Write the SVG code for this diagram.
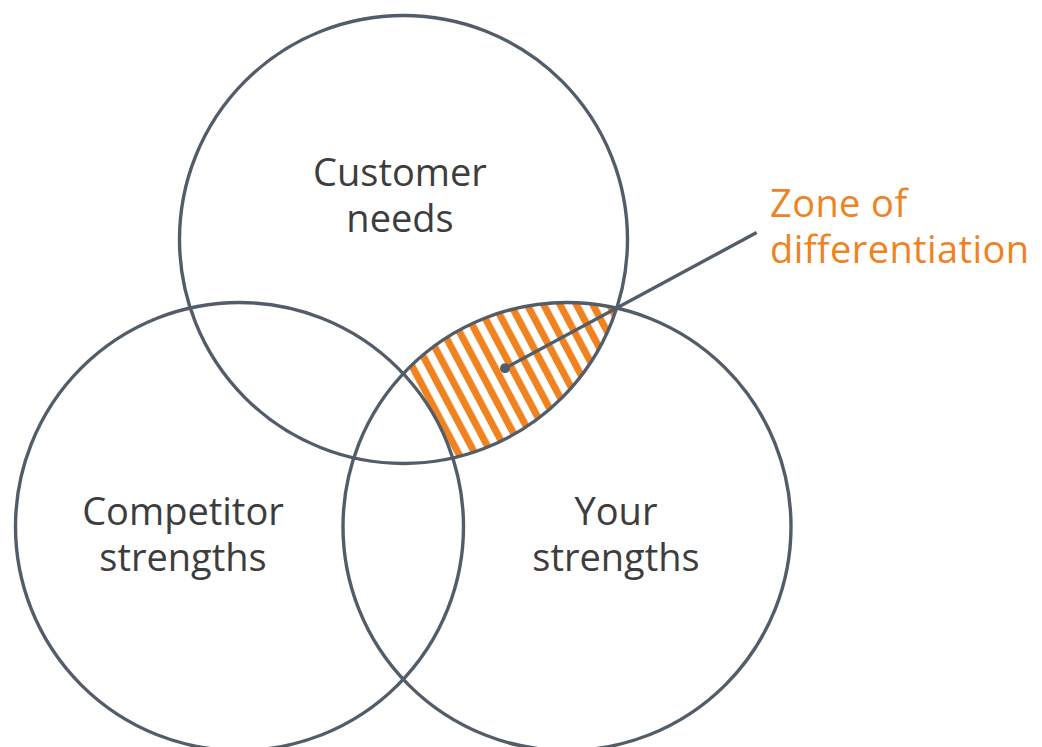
<svg xmlns="http://www.w3.org/2000/svg" width="1042" height="747" viewBox="0 0 1042 747">
<style>
.ring{fill:none;stroke:#535d69;stroke-width:3.4}
.lbl{font-family:"Open Sans","Noto Sans",sans-serif;font-size:38px;font-weight:500;fill:#3d3d3d;text-anchor:middle}
.zone{font-family:"Open Sans","Noto Sans",sans-serif;font-size:38px;font-weight:500;fill:#f0821f;letter-spacing:0.4px}
</style>
<defs>
<pattern id="hatch" patternUnits="userSpaceOnUse" width="14.5" height="40" patternTransform="rotate(-28)">
<rect x="0" y="0" width="7" height="40" fill="#f0821f"/>
</pattern>
<clipPath id="clipTop"><circle cx="403.5" cy="239.5" r="224"/></clipPath>
<clipPath id="clipRight"><circle cx="567" cy="526.5" r="224"/></clipPath>
<mask id="noLeft"><rect x="0" y="0" width="1042" height="747" fill="#fff"/><circle cx="239.5" cy="526.5" r="224" fill="#000"/></mask>
</defs>
<rect width="1042" height="747" fill="#fff"/>
<g id="zone-area" clip-path="url(#clipTop)">
<g clip-path="url(#clipRight)">
<rect x="300" y="250" width="400" height="250" fill="url(#hatch)" mask="url(#noLeft)"/>
</g>
</g>
<g id="customer-needs">
<circle class="ring" cx="403.5" cy="239.5" r="224"/>
<text class="lbl" x="400" y="186">Customer</text>
<text class="lbl" x="400" y="232">needs</text>
</g>
<g id="competitor-strengths">
<circle class="ring" cx="239.5" cy="526.5" r="224"/>
<text class="lbl" x="183" y="525">Competitor</text>
<text class="lbl" x="183" y="571">strengths</text>
</g>
<g id="your-strengths">
<circle class="ring" cx="567" cy="526.5" r="224"/>
<text class="lbl" x="616" y="525">Your</text>
<text class="lbl" x="616" y="571">strengths</text>
</g>
<g id="connectors">
<line x1="505" y1="368.3" x2="756.7" y2="232.5" stroke="#535d69" stroke-width="3.4"/>
<circle cx="505" cy="368.3" r="5" fill="#535d69"/>
</g>
<g id="zone-label">
<text class="zone" x="770" y="217">Zone of</text>
<text class="zone" x="770" y="263">differentiation</text>
</g>
</svg>
